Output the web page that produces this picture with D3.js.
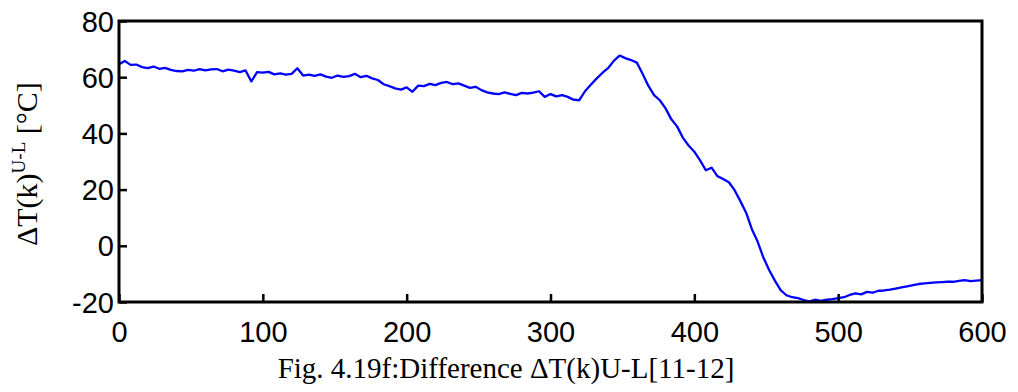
<!DOCTYPE html>
<html>
<head>
<meta charset="utf-8">
<script src="https://cdn.jsdelivr.net/npm/d3@7"></script>
<style>
  html, body { margin: 0; padding: 0; background: #fff; }
  svg { display: block; }
</style>
</head>
<body>
<svg id="chart" width="1018" height="392"></svg>
<script>
// ---- data ----
const xStep = 4;
const xStart = 0;
const diffValues = [
  64.6, 65.8, 64.4, 64.5, 63.6, 63.2, 63.8, 63.0, 63.3, 62.6,
  62.2, 62.1, 62.6, 62.3, 62.9, 62.4, 62.8, 62.9, 62.1, 62.7,
  62.3, 61.8, 62.4, 58.5, 61.8, 61.6, 61.9, 61.0, 61.4, 60.9,
  61.2, 63.2, 60.6, 60.9, 60.5, 61.0, 60.2, 59.8, 60.6, 60.1,
  60.4, 61.2, 60.0, 60.5, 59.6, 59.0, 57.5, 56.8, 56.0, 55.6,
  56.4, 54.8, 57.0, 56.8, 57.6, 57.2, 58.0, 58.3, 57.5, 57.8,
  57.0, 56.2, 56.6, 55.4, 54.6, 54.2, 54.0, 54.6, 54.1, 53.6,
  54.4, 54.2, 54.5, 55.0, 53.0, 54.0, 53.2, 53.6, 53.0, 52.0,
  51.8, 55.0, 57.3, 59.5, 61.5, 63.2, 65.8, 67.7, 66.8, 66.1,
  65.2, 61.2, 57.0, 53.6, 51.8, 48.9, 45.0, 42.5, 38.5, 35.7,
  33.5, 30.4, 26.9, 27.8, 24.8, 23.8, 22.6, 19.8, 15.9, 11.8,
  5.9, 1.5, -4.2, -8.6, -12.4, -15.8, -17.6, -18.3, -18.6, -19.3,
  -19.8, -19.2, -19.6, -19.2, -19.0, -18.6, -18.3, -17.5, -16.9, -17.3,
  -16.4, -16.7, -16.0, -15.9, -15.6, -15.2, -14.8, -14.4, -14.0, -13.6,
  -13.4, -13.2, -13.0, -12.9, -12.8, -12.8, -12.5, -12.2, -12.6, -12.4,
  -12.2
];
const xTicks = [0, 100, 200, 300, 400, 500, 600];
const yTicks = [-20, 0, 20, 40, 60, 80];
const xDomain = [0, 600];
const yDomain = [-20, 80];

// ---- layout ----
const svg = d3.select("#chart");
const mLeft = 119, mRight = 982, mTop = 21, mBottom = 302;

const x = d3.scaleLinear().domain(xDomain).range([mLeft, mRight]);
const y = d3.scaleLinear().domain(yDomain).range([mBottom, mTop]);

const points = diffValues.map((v, i) => [xStart + i * xStep, v]);

// data line
svg.append("path")
  .datum(points)
  .attr("fill", "none")
  .attr("stroke", "#0000ff")
  .attr("stroke-width", 2.3)
  .attr("stroke-linejoin", "round")
  .attr("d", d3.line().x(d => x(d[0])).y(d => y(d[1])));

// axes (ticks inward)
const tickFont = "'Liberation Sans', Arial, sans-serif";
const fmt = d => String(d);

const xAxis = svg.append("g")
  .attr("transform", `translate(0,${mBottom})`)
  .call(d3.axisBottom(x).tickValues(xTicks).tickSize(-8).tickPadding(20).tickFormat(fmt));
xAxis.select(".domain").remove();
xAxis.selectAll("line").attr("stroke", "#000").attr("stroke-width", 2.5);
xAxis.selectAll("text")
  .attr("font-family", tickFont).attr("font-size", 29).attr("fill", "#000")
  .attr("dy", "0.71em").attr("y", 19);

const yAxis = svg.append("g")
  .attr("transform", `translate(${mLeft},0)`)
  .call(d3.axisLeft(y).tickValues(yTicks).tickSize(-8).tickPadding(6).tickFormat(fmt));
yAxis.select(".domain").remove();
yAxis.selectAll("line").attr("stroke", "#000").attr("stroke-width", 2.5);
yAxis.selectAll("text")
  .attr("font-family", tickFont).attr("font-size", 29).attr("fill", "#000")
  .attr("x", -5).attr("dy", "0.35em");

// frame
svg.append("rect")
  .attr("x", mLeft).attr("y", mTop)
  .attr("width", mRight - mLeft).attr("height", mBottom - mTop)
  .attr("fill", "none").attr("stroke", "#000").attr("stroke-width", 3);

// y-axis title
const serif = "'Liberation Serif', 'Times New Roman', serif";
const yTitle = svg.append("text")
  .attr("transform", "translate(37,246) rotate(-90)")
  .attr("font-family", serif).attr("font-size", 30).attr("fill", "#000");
yTitle.append("tspan").text("\u0394T(k)");
yTitle.append("tspan").attr("font-size", 19).attr("dy", -12).text("U-L");
yTitle.append("tspan").attr("dy", 12).text(" [\u00B0C]");

// caption
svg.append("text")
  .attr("x", 506).attr("y", 378)
  .attr("text-anchor", "middle")
  .attr("font-family", serif).attr("font-size", 29).attr("fill", "#000")
  .text("Fig. 4.19f:Difference \u0394T(k)U-L[11-12]");
</script>
</body>
</html>
